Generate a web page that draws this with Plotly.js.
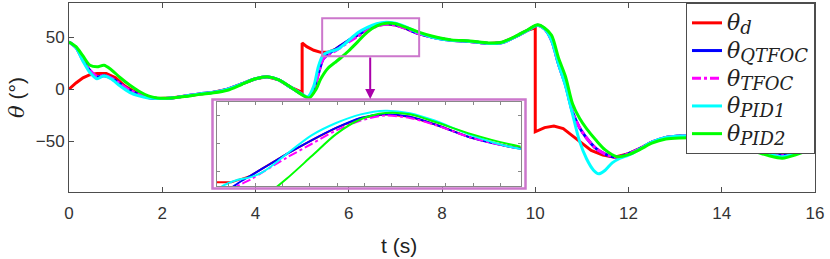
<!DOCTYPE html>
<html>
<head>
<meta charset="utf-8">
<script src="https://cdn.plot.ly/plotly-3.0.1.min.js"></script>
<style>html,body{margin:0;padding:0;background:#fff;}#chart{width:830px;height:259px;}</style>
</head>
<body>
<div id="chart"></div>
<script>
// ---- data ----
var tD = [0,0.15,0.3,0.45,0.6,0.8,1.0,1.2,1.5,1.7,1.9,2.2,2.5,2.8,3.1,3.4,3.7,4.0,4.25,4.5,4.75,5.0,5.0,5.1,5.25,5.4,5.55,5.7,5.8,5.9,6.0,6.2,6.4,6.6,6.8,7.0,7.2,7.5,7.8,8.2,8.6,9.0,9.3,9.6,9.85,10.0,10.0,10.2,10.4,10.6,10.8,11.0,11.2,11.45,11.7,12.0,12.25,12.5,12.8,13.1,13.5,14.0,14.5,15.0,15.3,15.6,16.0];
var thetaD = [0,6,11,14,15,15,11,3,-5,-8,-9,-8.5,-6.5,-4.5,-3,0,5,10,12,9,2,-3,44.5,41,37.5,35.5,35.5,38,41,44,47,52.5,57.5,61.5,63,62,59,53.5,50,47,46,44,45,51,57,59,-41,-37,-35.5,-38,-45,-52,-59,-63.5,-65.5,-62,-57,-51,-46.5,-45,-45,-48,-56,-62,-64,-61,-55];

var tQ = [0,0.15,0.3,0.45,0.6,0.75,0.9,1.1,1.3,1.5,1.7,1.9,2.2,2.5,2.8,3.1,3.4,3.7,4.0,4.25,4.5,4.75,5.0,5.12,5.25,5.35,5.45,5.6,5.7,5.8,5.9,6.0,6.2,6.4,6.6,6.8,7.0,7.2,7.5,7.8,8.2,8.6,9.0,9.3,9.6,9.85,10.05,10.2,10.35,10.5,10.65,10.8,10.95,11.1,11.3,11.5,11.75,12.0,12.25,12.5,12.8,13.1,13.5,14.0,14.5,15.0,15.3,15.6,16.0];
var thetaQ = [45.5,40,28,18,12,13,11,5,-1,-5,-8,-9,-8.5,-6.5,-4.5,-3,0,5,10,12,9,2,-5,-8,0,15,29,35,38,41,44,47,52.5,57.5,61.5,63,62,59,53.5,50,47,46,44,45,51,57,61.5,58,47,24,4,-22,-37,-47,-57,-62.5,-65.5,-62,-57,-51,-46.5,-45,-45,-48,-56,-62,-64,-61,-55];

var tT = tQ;
var thetaT = [45.5,40,28,18,12.5,13,11,5,-1,-5,-8,-9,-8.5,-6.5,-4.5,-3,0,5,10,12,9,2,-5,-8,0,15,29,34,36.5,39.5,42.5,45.5,51,56.5,60.5,62.5,61.5,58.8,53.5,50,47,46,44,45,51,57,61.5,58,47,24,4,-22,-37,-47,-57,-62.5,-65.5,-62,-57,-51,-46.5,-45,-45,-48,-56,-62,-64,-61,-55];

var tP1 = [0,0.15,0.3,0.45,0.6,0.75,0.9,1.1,1.3,1.5,1.7,1.9,2.2,2.5,2.8,3.1,3.4,3.7,4.0,4.25,4.5,4.75,5.0,5.12,5.25,5.35,5.45,5.6,5.7,5.8,5.9,6.0,6.2,6.4,6.6,6.8,7.0,7.2,7.5,7.8,8.2,8.6,9.0,9.3,9.6,9.85,10.05,10.2,10.35,10.5,10.65,10.8,10.95,11.1,11.25,11.36,11.5,11.65,11.82,12.0,12.25,12.5,12.8,13.1,13.5,14.0,14.5,15.0,15.3,15.6,16.0];
var thetaP1 = [45.5,40,27,16,10,13,10,3,-3,-6.5,-8.5,-9,-8.5,-6.5,-4.5,-3,0,5,10,12,9,2,-5,-7.5,3,22,33,36.5,37.5,39.5,43,47,54.5,59.5,63,64.5,63.5,60.5,54.5,50,47,46,44,45,51,57,61.5,58,47,24,3,-24,-50,-67,-78,-81.5,-78,-71,-66.5,-63.5,-57.5,-51,-46.5,-45,-45,-48,-56,-62,-65,-62,-56];

var tP2 = [0,0.15,0.3,0.45,0.6,0.75,0.9,1.1,1.3,1.5,1.7,1.9,2.2,2.5,2.8,3.1,3.4,3.7,4.0,4.25,4.5,4.75,5.0,5.15,5.3,5.4,5.55,5.7,5.85,6.0,6.2,6.4,6.6,6.8,7.0,7.2,7.5,7.8,8.2,8.6,9.0,9.3,9.6,9.85,10.05,10.2,10.35,10.5,10.65,10.8,10.95,11.1,11.3,11.5,11.75,12.0,12.25,12.5,12.8,13.1,13.5,14.0,14.5,15.0,15.3,15.6,16.0];
var thetaP2 = [45.5,41,32,23,21.5,23,19,11,4,-2,-6.5,-8.5,-8.5,-7,-5,-3.5,-1,4.5,10,12,9,2,-5.5,-8.5,0,10,20,25.5,31,37,46,55,61,63.5,63,60,55,51,47.5,46.5,44.5,45.5,51.5,57.5,62,59,52,30,12,-14,-28,-38,-49,-58.5,-65,-63,-58,-52,-48,-47,-47,-50,-57,-64,-66.5,-63,-56];

var subs = ['d','QTFOC','TFOC','PID1','PID2'];
var xTicks = [0,2,4,6,8,10,12,14,16];
var yTicks = [-50,0,50];
var xTitle = 't (s)';

// ---- styling ----
function legendLabel(s){
  return '<span style="font-size:22px"><i>θ</i></span><sub><span style="font-size:18px;font-style:italic">'+s+'</span></sub>';
}
var series = [
  {t:tD, v:thetaD, color:'#FF0000', dash:'solid', shape:'linear'},
  {t:tQ, v:thetaQ, color:'#0000FF', dash:'solid', shape:'spline'},
  {t:tT, v:thetaT, color:'#FF00FF', dash:'dashdot', shape:'spline'},
  {t:tP1, v:thetaP1, color:'#00FFFF', dash:'solid', shape:'spline'},
  {t:tP2, v:thetaP2, color:'#00FF00', dash:'solid', shape:'spline'}
];
var traces = [];
series.forEach(function(s,i){
  traces.push({x:s.t, y:s.v, type:'scatter', mode:'lines', name:legendLabel(subs[i]),
    line:{color:s.color, width:3, dash:s.dash, shape:s.shape, smoothing:0.8},
    xaxis:'x', yaxis:'y', hoverinfo:'skip'});
});
series.forEach(function(s,i){
  traces.push({x:s.t, y:s.v, type:'scatter', mode:'lines', showlegend:false,
    line:{color:s.color, width:2, dash:s.dash, shape:s.shape, smoothing:0.8},
    xaxis:'x2', yaxis:'y2', hoverinfo:'skip'});
});

var W=830, H=259, L=69, R=15, T=3, B=67;
var pw=W-L-R, ph=H-T-B;
function px(xp){return (xp-L)/pw;}
function py(yp){return (H-B-yp)/ph;}

var axisCol = '#4d4d4d';
var layout = {
  width:W, height:H,
  margin:{l:L, r:R, t:T, b:B, pad:0},
  paper_bgcolor:'#fff', plot_bgcolor:'#fff',
  showlegend:true,
  xaxis:{range:[0,16], tickvals:xTicks, ticks:'inside', ticklen:5, tickcolor:axisCol,
    showline:true, linecolor:axisCol, linewidth:1, mirror:'ticks', showgrid:false, zeroline:false,
    ticklabelstandoff:6,
    tickfont:{family:'Liberation Sans, Arial', size:17, color:'#333'}},
  yaxis:{range:[-99,83], tickvals:yTicks, ticks:'inside', ticklen:5, tickcolor:axisCol,
    showline:true, linecolor:axisCol, linewidth:1, mirror:'ticks', showgrid:false, zeroline:false,
    tickfont:{family:'Liberation Sans, Arial', size:17, color:'#333'}},
  xaxis2:{domain:[px(216.7), px(520.7)], anchor:'y2', range:[5.43,7.9], tick0:5.524, dtick:0.221,
    ticks:'inside', ticklen:3, tickcolor:'#888', showticklabels:false,
    showline:true, linecolor:'#888', linewidth:1, mirror:'ticks', showgrid:false, zeroline:false},
  yaxis2:{domain:[py(186), py(102)], anchor:'x2', range:[34,68], tick0:39.8, dtick:11.3,
    ticks:'inside', ticklen:3, tickcolor:'#888', showticklabels:false,
    showline:true, linecolor:'#888', linewidth:1, mirror:'ticks', showgrid:false, zeroline:false},
  legend:{x:1, xanchor:'right', y:1, yanchor:'top', bgcolor:'#fff', bordercolor:axisCol, borderwidth:1,
    font:{family:'DejaVu Serif, Liberation Serif', size:19, color:'#222'}, tracegroupgap:0},
  shapes:[
    {type:'rect', xref:'x', yref:'y', x0:5.43, x1:7.51, y0:31.7, y1:68.3,
     line:{color:'#CC77CC', width:2}, layer:'above'},
    {type:'rect', xref:'paper', yref:'paper', x0:px(212.5), x1:px(525.5), y0:py(188.5), y1:py(99.5),
     line:{color:'#CC77CC', width:2.5}, layer:'above'}
  ],
  annotations:[
    {xref:'x', yref:'paper', x:6.46, y:py(99), ax:0, ay:-43, showarrow:true, arrowhead:2,
     arrowsize:1, arrowwidth:2, arrowcolor:'#AA00AA', text:'', standoff:0},
    {xref:'paper', yref:'paper', x:px(399), y:py(245), xanchor:'center', yanchor:'middle',
     text:xTitle, showarrow:false, font:{family:'Liberation Sans, Arial', size:21, color:'#222'}},
    {xref:'paper', yref:'paper', x:px(17), y:py(97), xanchor:'center', yanchor:'middle', textangle:-90,
     text:'<span style="font-family:DejaVu Serif"><i>θ</i></span> (°)', showarrow:false,
     font:{family:'Liberation Sans, Arial', size:21, color:'#222'}}
  ]
};
Plotly.newPlot('chart', traces, layout, {displayModeBar:false, staticPlot:true});
</script>
</body>
</html>
